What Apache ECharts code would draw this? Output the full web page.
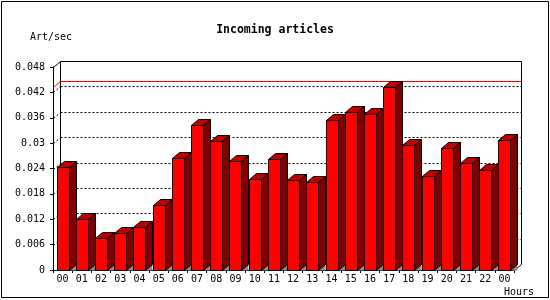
<!DOCTYPE html>
<html><head><meta charset="utf-8">
<script src="https://cdn.jsdelivr.net/npm/echarts@6/dist/echarts.min.js"></script>
<style>html,body{margin:0;padding:0;background:#fff}#c{width:550px;height:300px}</style>
</head><body><div id="c"></div>
<script>
const hours = ['00','01','02','03','04','05','06','07','08','09','10','11','12','13','14','15','16','17','18','19','20','21','22','00'];
const artPerSec = [0.0243,0.0120,0.0075,0.0087,0.0101,0.0153,0.0264,0.0342,0.0304,0.0257,0.0216,0.0263,0.0212,0.0209,0.0354,0.0373,0.0368,0.0432,0.0295,0.0222,0.0289,0.0252,0.0236,0.0307];
const yTicks = [0,0.006,0.012,0.018,0.024,0.03,0.036,0.042,0.048];
const titleText = 'Incoming articles';
const yName = 'Art/sec';
const xName = 'Hours';

const DX = 7, DY = 6;
const FONT = '"DejaVu Sans Mono", monospace';
const yMax = yTicks[yTicks.length-1];
const yStep = yTicks[1]-yTicks[0];
const maxVal = Math.max.apply(null, artPerSec);

function px(v){ return Math.round(v)+0.5; }

function edges(api){
  const cw = api.size([1,0])[0];
  return {
    xl: api.coord([0,0])[0]-cw/2,
    xr: api.coord([hours.length-1,0])[0]+cw/2,
    y0: api.coord([0,0])[1],
    yT: api.coord([0,yMax])[1]
  };
}

function frameItem(params, api){
  const e = edges(api);
  const children = [];
  const solid = {stroke:'#000000',lineWidth:1,fill:null};
  const dotted = {stroke:'#000000',lineWidth:1,lineDash:[2,2],fill:null};
  function line(x1,y1,x2,y2,style){ children.push({type:'line',shape:{x1:x1,y1:y1,x2:x2,y2:y2},style:style}); }
  yTicks.forEach(function(t){
    if (t<=0 || t>=yMax) return;
    const y = api.coord([0,t])[1];
    const yb = px(y-DY);
    line(px(e.xl), px(y), px(e.xl+DX), yb, dotted);
    line(px(e.xl+DX), yb, px(e.xr+DX), yb, dotted);
  });
  line(px(e.xl+DX), px(e.yT-DY), px(e.xl+DX), px(e.y0-DY), solid);
  line(px(e.xl+DX), px(e.yT-DY), px(e.xr+DX), px(e.yT-DY), solid);
  line(px(e.xr+DX), px(e.yT-DY), px(e.xr+DX), px(e.y0-DY), solid);
  line(px(e.xl), px(e.yT), px(e.xl+DX), px(e.yT-DY), solid);
  line(px(e.xr), px(e.y0), px(e.xr+DX), px(e.y0-DY), solid);
  return {type:'group', children:children};
}

function maxLineItem(params, api){
  const e = edges(api);
  const ym = api.coord([0, api.value(1)])[1];
  return {type:'polyline', shape:{points:[[px(e.xl), px(ym)], [px(e.xl+DX), px(ym-DY)], [px(e.xr+DX), px(ym-DY)]]},
          style:{stroke:'#ff0000', lineWidth:1, fill:null}};
}

function barItem(params, api){
  const i = api.value(0), v = api.value(1);
  const p0 = api.coord([i,0]), p1 = api.coord([i,v]);
  const w = Math.round(api.size([1,0])[0]*0.625);
  const x1 = Math.round(p0[0]-w/2)+0.5, x2 = x1+w;
  const yb = Math.round(p0[1])+0.5, yt = Math.round(p1[1])+0.5;
  return {type:'group', children:[
    {type:'polygon', shape:{points:[[x2,yb],[x2+DX,yb-DY],[x2+DX,yb]]}, style:{fill:'#8c8c8c', stroke:null}},
    {type:'polygon', shape:{points:[[x2,yt],[x2+DX,yt-DY],[x2+DX,yb-DY],[x2,yb]]}, style:{fill:'#800000', stroke:'#000', lineWidth:1}},
    {type:'polygon', shape:{points:[[x1,yt],[x1+DX,yt-DY],[x2+DX,yt-DY],[x2,yt]]}, style:{fill:'#c00000', stroke:'#000', lineWidth:1}},
    {type:'rect', shape:{x:x1, y:yt, width:w, height:yb-yt}, style:{fill:'#ff0000', stroke:'#000', lineWidth:1}}
  ]};
}

const chart = echarts.init(document.getElementById('c'), null, {renderer:'canvas'});
chart.setOption({
  animation: false,
  backgroundColor: '#fff',
  title: {text: titleText, left: 'center', top: 19, textStyle: {fontFamily: FONT, fontSize: 11.5, fontWeight: 'bold', color: '#000'}},
  grid: {left: 53, right: 36, top: 67, bottom: 30, containLabel: false},
  xAxis: {
    type: 'category', data: hours, boundaryGap: true,
    axisLine: {lineStyle: {color: '#000', width: 1}},
    axisTick: {show: true, length: 3, lineStyle: {color: '#000'}},
    axisLabel: {color: '#000', fontFamily: FONT, fontSize: 10, margin: 4, interval: 0},
    splitLine: {show: false}
  },
  yAxis: {
    type: 'value', min: 0, max: yMax, interval: yStep,
    axisLine: {show: true, lineStyle: {color: '#000', width: 1}},
    axisTick: {show: true, length: 3, lineStyle: {color: '#000'}},
    axisLabel: {color: '#000', fontFamily: FONT, fontSize: 10, margin: 8, formatter: function(v){ return String(+v.toFixed(3)); }},
    splitLine: {show: false}
  },
  graphic: [
    {type: 'rect', shape: {x: 1.5, y: 1.5, width: 547, height: 296}, style: {fill: null, stroke: '#000', lineWidth: 1}, silent: true},
    {type: 'text', x: 30, y: 37, style: {text: yName, fontFamily: FONT, fontSize: 10, fill: '#000', verticalAlign: 'middle', align: 'left'}},
    {type: 'text', x: 504, y: 292, style: {text: xName, fontFamily: FONT, fontSize: 10, fill: '#000', verticalAlign: 'middle', align: 'left'}}
  ],
  series: [
    {type: 'custom', name: 'frame', data: [[0,0]], renderItem: frameItem, clip: false, z: 1, silent: true, itemStyle: {color: '#000'}},
    {type: 'custom', name: 'max', data: [[0,maxVal]], renderItem: maxLineItem, clip: false, z: 2, silent: true, itemStyle: {color: '#ff0000'}},
    {type: 'custom', name: 'Art/sec', data: artPerSec.map(function(v,i){ return [i,v]; }), encode: {x: 0, y: 1}, renderItem: barItem, clip: false, z: 3}
  ]
});
</script>
</body></html>
